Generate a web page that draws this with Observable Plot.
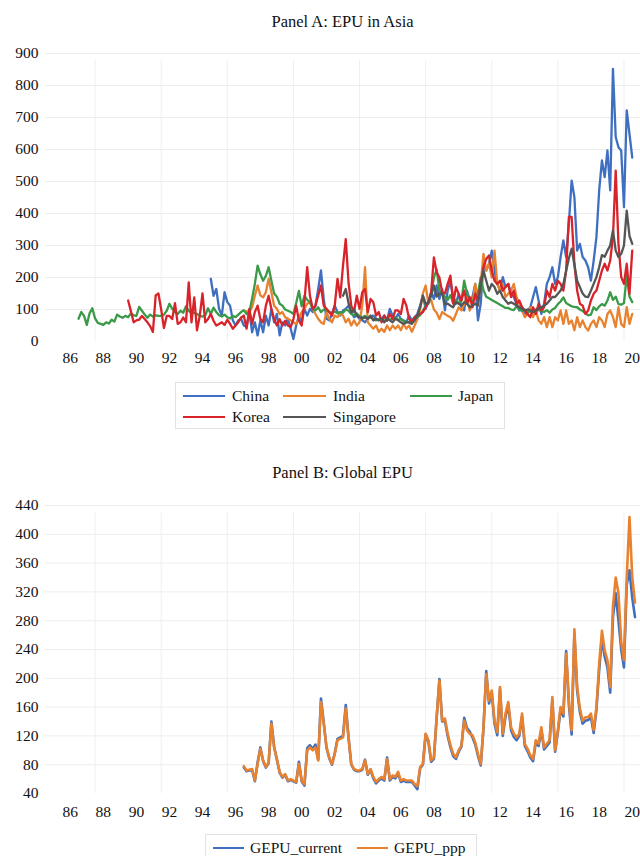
<!DOCTYPE html>
<html><head><meta charset="utf-8">
<script src="https://cdn.jsdelivr.net/npm/d3@7"></script>
<script src="https://cdn.jsdelivr.net/npm/@observablehq/plot@0.6"></script>
<style>
body{margin:0;background:#fff;font-family:"Liberation Serif","Times New Roman",serif;}
#wrap{position:relative;width:640px;height:856px;overflow:hidden;background:#fff;}
.title{position:absolute;left:45px;width:595px;text-align:center;font-size:16.5px;line-height:20px;color:#111;}
.legend{position:absolute;border:1px solid #e2e2e2;background:#fff;box-sizing:border-box;}
.item{position:absolute;font-size:15.5px;line-height:18px;color:#111;white-space:nowrap;}
.swatch{position:absolute;height:2px;}
.plot{position:absolute;left:0;}
</style></head><body><div id="wrap"></div>
<script>
// ---- axis labels ----
const tickYears = [1986,1988,1990,1992,1994,1996,1998,2000,2002,2004,2006,2008,2010,2012,2014,2016,2018,2020];
const tickLabels = ["86","88","90","92","94","96","98","00","02","04","06","08","10","12","14","16","18","20"];
const gridYears = [1988,1992,1996,2000,2004,2008,2012,2016,2020];
const epuTicks = [0,100,200,300,400,500,600,700,800,900];
const gepuTicks = [40,80,120,160,200,240,280,320,360,400,440];

// ---- Panel A series (bimonthly readings) ----
const asiaNames = ["China","India","Japan","Korea","Singapore"];
const asiaColors = ["#3f6fc1","#e8822f","#3b9a48","#d8232a","#555555"];

const chinaStart = 1995;
const chinaValues = [
196,143,164,102,81,154, 123,112,66,50,66,71, 50,45,92,29,60,19, 66,29,81,50,102,60,
86,19,60,50,71,40, 8,50,81,60,102,81, 102,92,112,164,222,133, 71,66,86,112,92,81,
97,102,112,92,76,81, 71,66,60,71,76,81, 71,66,71,81,66,102, 81,71,86,71,66,60,
81,66,76,86,112,143, 102,123,154,133,175,133, 164,97,159,190,139,118, 149,107,97,159,128,139,
180,66,118,243,222,243, 284,222,180,159,201,170, 180,149,139,118,97,107, 86,97,107,139,170,128,
86,118,180,201,232,180, 201,264,316,264,368,503, 451,284,305,264,253,232, 190,253,326,472,566,514,
597,472,852,639,607,597, 420,722,649,575];

const indiaStart = 1997 + 1/6;
const indiaValues = [
95,92,107,143,175, 144,138,154,196,154,112, 102,86,92,76,71,66, 60,55,71,92,102,118,
123,102,86,71,60,55, 92,71,60,81,76,86, 81,60,71,50,66,50, 60,112,232,60,50,40,
50,30,40,30,50,35, 50,40,50,35,55,40, 50,30,50,70,100,150, 175,120,130,100,90,70,
92,86,80,76,65,86, 107,97,118,139,97,118, 180,140,180,274,222,243, 200,284,180,159,180,139,
149,159,180,139,118,97, 76,86,107,76,97,66, 55,76,45,76,45,76, 66,97,55,97,55,66,
35,76,45,66,45,34, 55,66,45,76,66,45, 86,97,76,45,107,55, 45,107,55,86];

const japanStart = 1987;
const japanValues = [
71,92,80,52,88,104, 72,58,55,52,60,56, 68,62,84,78,74,80, 76,88,82,80,108,96,
84,74,84,78,82,80, 80,84,96,118,102,92, 86,96,90,110,96,88, 90,86,80,78,82,104,
86,106,92,82,78,84, 76,72,80,76,84,92, 98,86,92,134,180,237, 210,190,205,232,190,150,
140,118,112,100,96,92, 86,120,158,110,143,130, 123,100,97,107,92,100, 98,92,90,94,88,92,
90,100,96,86,82,88, 78,76,80,72,76,70, 66,70,68,64,72,68, 72,76,68,70,64,62,
60,66,72,76,82,96, 112,118,150,200,225,160, 150,140,130,145,120,130, 120,128,190,150,130,125,
140,150,200,160,140,135, 130,125,120,115,110,105, 105,100,98,110,100,95, 100,90,95,92,100,98,
96,92,98,90,100,105, 117,125,138,120,115,110, 108,107,100,95,88,82, 84,107,98,110,117,112,
128,154,130,140,117,115, 120,206,140,123];

const koreaStart = 1990;
const koreaValues = [
128,95,60,66,68,80, 70,60,48,30,144,150, 100,42,80,80,70,120, 55,60,75,60,185,60,
138,35,80,150,60,70, 86,65,50,55,60,52, 68,55,40,50,60,75, 81,40,102,55,92,112,
70,60,112,143,102,70, 50,70,50,65,50,45, 70,112,65,50,123,232, 143,102,112,143,175,112,
102,92,81,112,196,138, 237,320,185,112,92,143, 102,154,164,92,133,123, 81,92,60,81,65,86,
71,97,97,86,133,112, 71,60,76,81,86,92, 107,123,154,263,216,200, 154,150,180,206,118,170,
149,128,159,118,139,107, 149,128,180,232,258,269, 222,190,180,190,159,170, 180,139,159,118,128,107,
97,86,76,107,86,118, 97,107,159,139,180,159, 190,180,159,222,389,389, 243,159,118,112,86,97,
128,149,159,190,222,243, 222,253,326,534,305,201, 180,243,149,284];

const singaporeStart = 2003;
const singaporeValues = [
143,164,120,92,100,81, 76,71,76,71,81,66, 71,66,71,60,71,66, 60,71,66,60,55,60,
60,55,66,81,107,143, 118,123,143,175,140,150, 150,118,118,112,107,123, 118,112,123,118,107,112,
118,112,180,222,190,159, 180,170,149,159,139,128, 118,123,118,112,107,102, 97,100,97,92,97,102,
107,112,118,128,139,139, 149,159,180,220,260,290, 240,190,170,150,140,139, 159,180,201,232,270,265,
284,300,347,284,264,274, 300,409,330,305];

// ---- Panel B series ----
const globalNames = ["GEPU_current","GEPU_ppp"];
const globalColors = ["#3f6fc1","#e8822f"];
const gepuStart = 1997;
const gepuCurrent = [
76,71,72,73,57,83, 104,85,76,82,140,105, 87,69,62,66,57,59, 57,55,84,57,51,103,
107,102,108,87,172,139, 104,89,80,96,116,118, 120,163,118,80,73,71, 71,73,87,66,73,61,
54,58,61,58,90,58, 63,61,68,56,58,56, 56,56,51,46,75,80, 122,112,84,88,145,199,
140,141,120,104,92,88, 98,105,145,131,126,118, 108,92,79,130,210,165, 180,137,121,185,120,147,
163,128,119,114,120,147, 106,99,90,85,111,106, 128,101,106,111,170,98, 125,157,147,238,163,122,
262,183,153,137,141,142, 146,124,156,212,255,230, 215,180,285,318,280,240, 215,330,350,312,285];
const gepuPpp = [
78,72,73,74,58,81, 102,86,77,83,137,104, 88,70,63,67,58,60, 58,56,81,58,53,100,
104,100,104,86,167,137, 104,90,81,95,114,116, 118,158,118,81,74,72, 72,74,86,67,74,63,
56,60,63,60,88,60, 65,63,70,58,60,58, 58,58,53,50,77,81, 123,114,86,90,146,197,
141,144,123,107,95,90, 100,107,141,128,123,121, 111,95,81,132,206,169, 183,141,125,188,123,151,
167,132,123,118,123,151, 109,102,93,88,114,109, 132,104,109,114,174,100, 128,160,151,234,169,128,
268,188,158,141,146,146, 151,128,160,220,266,239, 225,188,300,340,318,250, 225,340,424,340,305];

// ---- build tables ----
const rows = (name, start, values) => values.map((v, i) => ({name, t: start + i / 6, v}));
const asiaRows = [
  ...rows("China", chinaStart, chinaValues),
  ...rows("India", indiaStart, indiaValues),
  ...rows("Japan", japanStart, japanValues),
  ...rows("Korea", koreaStart, koreaValues),
  ...rows("Singapore", singaporeStart, singaporeValues)
];
const globalRows = [
  ...rows("GEPU_current", gepuStart, gepuCurrent),
  ...rows("GEPU_ppp", gepuStart, gepuPpp)
];

const labelOf = d => tickLabels[tickYears.indexOf(Math.round(d - 0.5))];
const font = {fontFamily: '"Liberation Serif","Times New Roman",serif', fontSize: "15.5px", color: "#111", background: "#fff", overflow: "visible"};

function panel(data, names, colors, yTicks, yDomain, xPad, height, marginTop, sw) {
  return Plot.plot({
    width: 640, height, marginLeft: 45, marginRight: 0, marginTop, marginBottom: height - marginTop - 288,
    style: font,
    x: {domain: [1985, 2021]},
    y: {domain: yDomain},
    color: {domain: names, range: colors},
    marks: [
      Plot.ruleY(yTicks.slice(1), {stroke: "#ededed", strokeWidth: 1}),
      Plot.ruleX(gridYears, {x: d => d, y1: yDomain[0], y2: yDomain[1] - (yDomain[1] - yDomain[0]) * 0.025, stroke: "#efefef", strokeWidth: 1}),
      Plot.axisY({ticks: yTicks, tickSize: 0, tickPadding: 7, label: null}),
      Plot.axisX({ticks: tickYears.map(y => y + 0.5), tickFormat: labelOf, tickSize: 0, tickPadding: xPad, label: null}),
      Plot.lineY(data, {x: "t", y: "v", z: "name", stroke: "name", strokeWidth: sw, strokeLinejoin: "round"})
    ]
  });
}

const wrap = document.getElementById("wrap");
function add(html) { const d = document.createElement("div"); d.innerHTML = html; const el = d.firstElementChild; wrap.appendChild(el); return el; }

add('<div class="title" style="top:12px">Panel A: EPU in Asia</div>');
const pa = panel(asiaRows, asiaNames, asiaColors, epuTicks, [0, 900], 10, 331, 13, 2.3);
pa.classList.add("plot"); pa.style.position = "absolute"; pa.style.top = "40px"; wrap.appendChild(pa);

// legend A
add('<div class="legend" style="left:175px;top:382px;width:330px;height:47px"></div>');
const legA = [
  {n: "China", sx: 183, sw: 42, tx: 232, y: 396},
  {n: "India", sx: 283, sw: 43, tx: 333, y: 396},
  {n: "Japan", sx: 410, sw: 42, tx: 458, y: 396},
  {n: "Korea", sx: 183, sw: 42, tx: 232, y: 417},
  {n: "Singapore", sx: 283, sw: 43, tx: 333, y: 417}
];
legA.forEach(o => {
  const c = asiaColors[asiaNames.indexOf(o.n)];
  add(`<div class="swatch" style="left:${o.sx}px;top:${o.y - 1}px;width:${o.sw}px;background:${c}"></div>`);
  add(`<div class="item" style="left:${o.tx}px;top:${o.y - 9}px">${o.n}</div>`);
});

add('<div class="title" style="top:463px">Panel B: Global EPU</div>');
const pb = panel(globalRows, globalNames, globalColors, gepuTicks, [40, 440], 12, 333, 15, 2.6);
pb.classList.add("plot"); pb.style.position = "absolute"; pb.style.top = "490px"; wrap.appendChild(pb);

add('<div class="legend" style="left:205px;top:834px;width:272px;height:40px"></div>');
const legB = [
  {n: "GEPU_current", sx: 213, sw: 31, tx: 250, y: 848},
  {n: "GEPU_ppp", sx: 357, sw: 31, tx: 394, y: 848}
];
legB.forEach(o => {
  const c = globalColors[globalNames.indexOf(o.n)];
  add(`<div class="swatch" style="left:${o.sx}px;top:${o.y - 1}px;width:${o.sw}px;background:${c}"></div>`);
  add(`<div class="item" style="left:${o.tx}px;top:${o.y - 9}px">${o.n}</div>`);
});
</script></body></html>
